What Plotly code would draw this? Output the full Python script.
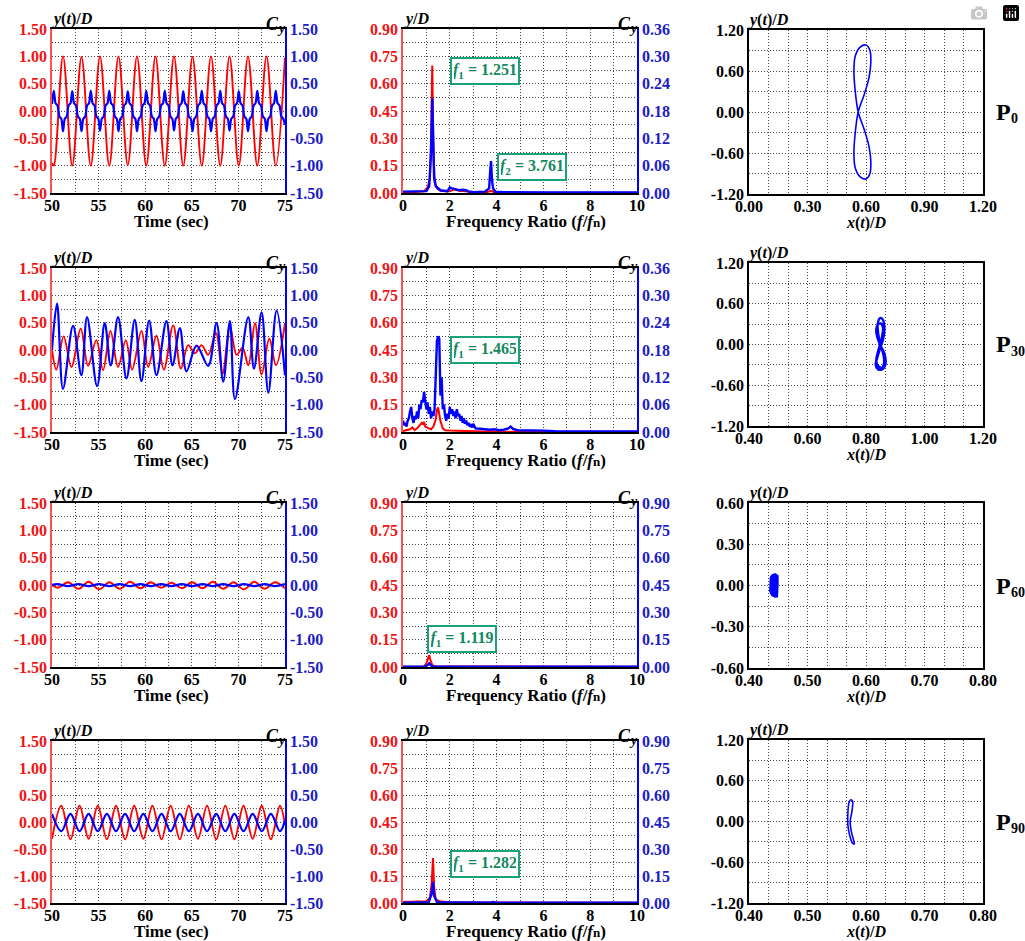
import plotly.graph_objects as go

W, H = 1025, 941
FONT = "Liberation Serif"
RED = "#ff0000"
BLUE = "#0000ff"
RED_TXT = "#f01414"
BLUE_TXT = "#1c1cc8"
TEAL = "#1aa37a"
TEAL_TXT = "#13885e"
GRID = "#444444"
GDASH = "1px,2px"

# ------------------------------------------------------------------ data
# Row 1 (P0) time histories
t1_y = [50.0, 50.19, 51.18, 52.175, 53.165, 54.16, 55.15, 56.145, 57.135, 58.13, 59.12,
        60.115, 61.105, 62.10, 63.09, 64.085, 65.075, 66.07, 67.06, 68.055, 69.045,
        70.04, 71.03, 72.025, 73.015, 74.01, 75.0]
y1 = [-0.95, -1.0, 1.0, -1.0, 0.99, -1.0, 1.0, -1.0, 1.0, -0.99, 1.0, -1.0, 1.0, -1.0, 1.0,
      -1.0, 0.99, -1.0, 1.0, -1.0, 1.0, -1.0, 1.0, -1.0, 1.0, -1.0, 0.98]
t1_c = [50.0,
        50.19, 50.39, 50.59, 50.79, 50.99, 51.18, 51.38, 51.58, 51.78, 51.98,
        52.175, 52.375, 52.575, 52.775, 52.975, 53.165, 53.365, 53.565, 53.765, 53.965,
        54.16, 54.36, 54.56, 54.76, 54.96, 55.15, 55.35, 55.55, 55.75, 55.95,
        56.145, 56.345, 56.545, 56.745, 56.945, 57.135, 57.335, 57.535, 57.735, 57.935,
        58.13, 58.33, 58.53, 58.73, 58.93, 59.12, 59.32, 59.52, 59.72, 59.92,
        60.115, 60.315, 60.515, 60.715, 60.915, 61.105, 61.305, 61.505, 61.705, 61.905,
        62.10, 62.30, 62.50, 62.70, 62.90, 63.09, 63.29, 63.49, 63.69, 63.89,
        64.085, 64.285, 64.485, 64.685, 64.885, 65.075, 65.275, 65.475, 65.675, 65.875,
        66.07, 66.27, 66.47, 66.67, 66.87, 67.06, 67.26, 67.46, 67.66, 67.86,
        68.055, 68.255, 68.455, 68.655, 68.855, 69.045, 69.245, 69.445, 69.645, 69.845,
        70.04, 70.24, 70.44, 70.64, 70.84, 71.03, 71.23, 71.43, 71.63, 71.83,
        72.025, 72.225, 72.425, 72.625, 72.825, 73.015, 73.215, 73.415, 73.615, 73.815,
        74.01, 74.21, 74.41, 74.61, 74.81, 75.0]
c1 = [0.13,
      0.37, 0.14, 0.10, -0.10, -0.14, -0.37, -0.14, -0.10, 0.10, 0.14,
      0.36, 0.14, 0.10, -0.10, -0.14, -0.37, -0.14, -0.10, 0.10, 0.14,
      0.37, 0.14, 0.10, -0.10, -0.14, -0.36, -0.14, -0.10, 0.10, 0.14,
      0.37, 0.14, 0.10, -0.10, -0.14, -0.37, -0.14, -0.10, 0.10, 0.14,
      0.36, 0.14, 0.10, -0.10, -0.14, -0.37, -0.14, -0.10, 0.10, 0.14,
      0.37, 0.14, 0.10, -0.10, -0.14, -0.37, -0.14, -0.10, 0.10, 0.14,
      0.37, 0.14, 0.10, -0.10, -0.14, -0.36, -0.14, -0.10, 0.10, 0.14,
      0.36, 0.14, 0.10, -0.10, -0.14, -0.37, -0.14, -0.10, 0.10, 0.14,
      0.37, 0.14, 0.10, -0.10, -0.14, -0.37, -0.14, -0.10, 0.10, 0.14,
      0.37, 0.14, 0.10, -0.10, -0.14, -0.36, -0.14, -0.10, 0.10, 0.14,
      0.36, 0.14, 0.10, -0.10, -0.14, -0.37, -0.14, -0.10, 0.10, 0.14,
      0.37, 0.14, 0.10, -0.10, -0.14, -0.37, -0.14, -0.10, 0.10, 0.14,
      0.37, 0.14, 0.10, -0.10, -0.14, -0.25]

# Row 2 (P30) time histories
t2_y = [50.0, 50.47, 51.25, 52.08, 53.08, 53.87, 54.76, 55.48, 56.27, 57.09, 57.92, 58.60,
        59.60, 60.32, 61.21, 62.00, 63.00, 63.83, 64.61, 65.33, 66.05, 66.76, 67.59, 68.30,
        69.09, 69.81, 70.45, 71.06, 71.78, 72.49, 73.32, 74.03, 75.0]
y2 = [0.0, -0.36, 0.25, -0.31, 0.39, -0.29, 0.18, -0.37, 0.35, -0.31, 0.18, -0.36, 0.35,
      -0.31, 0.26, -0.36, 0.45, -0.34, 0.09, -0.06, 0.09, -0.09, 0.31, -0.43, 0.43, -0.09,
      0.04, -0.28, 0.49, -0.45, 0.21, -0.28, 0.49]
t2_c = [50.0, 50.54, 51.18, 52.26, 53.15, 53.76, 54.84, 55.66, 56.30, 57.09, 57.99, 58.88,
        59.60, 60.42, 61.21, 62.28, 62.93, 63.72, 64.43, 65.51, 66.76, 67.66, 68.37, 69.09,
        69.63, 71.06, 71.67, 72.49, 73.21, 74.10, 75.0]
c2 = [0.0, 0.85, -0.71, 0.44, -0.46, 0.60, -0.66, 0.49, -0.28, 0.60, -0.52, 0.55, -0.57,
      0.54, -0.46, 0.53, -0.28, 0.40, -0.39, 0.08, -0.29, 0.49, -0.58, 0.53, -0.90, 0.60,
      -0.34, 0.69, -0.78, 0.72, -0.46]

# Row 3 (P60) time histories
t3 = [50.0, 50.61, 51.72, 52.83, 53.94, 55.05, 56.16, 57.27, 58.38, 59.49, 60.60, 61.71,
      62.82, 63.93, 65.04, 66.15, 67.26, 68.37, 69.48, 70.59, 71.70, 72.81, 73.92, 75.0]
y3 = [0.0, -0.05, 0.05, -0.07, 0.06, -0.08, 0.05, -0.07, 0.06, -0.06, 0.05, -0.05, 0.04,
      -0.06, 0.05, -0.06, 0.06, -0.07, 0.05, -0.08, 0.06, -0.07, 0.05, -0.06]
c3 = [0.0, 0.015, -0.02, 0.015, -0.02, 0.015, -0.02, 0.015, -0.02, 0.015, -0.02, 0.015,
      -0.02, 0.015, -0.02, 0.015, -0.02, 0.015, -0.02, 0.015, -0.02, 0.015, -0.02, 0.015]

# Row 4 (P90) time histories
t4 = [50.0, 51.0, 51.98, 52.955, 53.93, 54.91, 55.89, 56.865, 57.84, 58.82, 59.80, 60.775,
      61.75, 62.73, 63.71, 64.685, 65.66, 66.64, 67.62, 68.595, 69.57, 70.55, 71.53, 72.505,
      73.48, 74.46, 75.0]
y4 = [-0.31, 0.30, -0.32, 0.30, -0.31, 0.30, -0.32, 0.30, -0.32, 0.30, -0.31, 0.30, -0.32,
      0.30, -0.32, 0.30, -0.31, 0.30, -0.32, 0.30, -0.32, 0.30, -0.31, 0.30, -0.32, 0.30, -0.05]
c4 = [0.15, -0.17, 0.15, -0.17, 0.15, -0.17, 0.15, -0.17, 0.15, -0.17, 0.15, -0.17, 0.15,
      -0.17, 0.15, -0.17, 0.15, -0.17, 0.15, -0.17, 0.15, -0.17, 0.15, -0.17, 0.15, -0.17, 0.03]

# Spectra (frequency ratio f/fn, amplitude)
f1_y = [0, 0.5, 0.9, 1.05, 1.15, 1.2, 1.251, 1.3, 1.35, 1.45, 1.6, 1.9, 2.05, 2.2, 2.4, 2.6,
        2.8, 3.2, 3.6, 3.76, 3.9, 4.2, 6.0, 10.0]
a1_y = [0.006, 0.005, 0.01, 0.03, 0.08, 0.30, 0.70, 0.22, 0.06, 0.025, 0.012, 0.008, 0.012,
        0.02, 0.012, 0.009, 0.006, 0.004, 0.005, 0.012, 0.004, 0.002, 0.001, 0.001]
f1_c = [0, 0.5, 1.0, 1.12, 1.2, 1.251, 1.29, 1.33, 1.4, 1.6, 1.9, 2.0, 2.1, 2.25, 2.4, 2.55,
        2.7, 2.8, 3.0, 3.5, 3.68, 3.73, 3.761, 3.8, 3.85, 3.95, 4.3, 6.0, 10.0]
a1_c = [0.003, 0.003, 0.004, 0.015, 0.09, 0.208, 0.10, 0.035, 0.015, 0.006, 0.004, 0.012,
        0.010, 0.008, 0.006, 0.007, 0.006, 0.003, 0.002, 0.003, 0.010, 0.05, 0.07, 0.03,
        0.01, 0.003, 0.002, 0.001, 0.001]

f2_y = [0.0, 0.2, 0.3, 0.4, 0.5, 0.6, 0.7, 0.8, 0.85, 0.9, 0.95, 1.0, 1.1, 1.2, 1.3, 1.4,
        1.45, 1.5, 1.55, 1.6, 1.7, 1.8, 2.0, 2.5, 3.0, 4.0, 10.0]
a2_y = [0.005, 0.01, 0.015, 0.025, 0.01, 0.02, 0.035, 0.05, 0.04, 0.055, 0.03, 0.025, 0.02,
        0.015, 0.03, 0.07, 0.12, 0.135, 0.10, 0.06, 0.02, 0.01, 0.008, 0.005, 0.004, 0.002,
        0.001]
f2_c = [0.0, 0.05, 0.1, 0.15, 0.2, 0.25, 0.3, 0.35, 0.4, 0.45, 0.5, 0.55, 0.6, 0.65, 0.7,
        0.75, 0.8, 0.85, 0.9, 0.95, 1.0, 1.05, 1.1, 1.15, 1.2, 1.25, 1.3, 1.35, 1.4, 1.45,
        1.5, 1.55, 1.6, 1.65, 1.7, 1.75, 1.8, 1.85, 1.9, 1.95, 2.0, 2.05, 2.1, 2.15, 2.2,
        2.25, 2.3, 2.35, 2.4, 2.45, 2.5, 2.55, 2.6, 2.65, 2.7, 2.75, 2.8, 2.85, 2.9, 2.95,
        3.0, 3.1, 3.3, 3.5, 3.7, 3.9, 4.1, 4.3, 4.5, 4.6, 4.7, 4.9, 5.2, 5.5, 6.0, 6.5, 7.0,
        8.0, 9.0, 10.0]
a2_c = [0.025, 0.015, 0.02, 0.012, 0.025, 0.03, 0.045, 0.055, 0.03, 0.02, 0.035, 0.028,
        0.045, 0.03, 0.06, 0.05, 0.07, 0.065, 0.088, 0.06, 0.05, 0.065, 0.04, 0.055, 0.03,
        0.045, 0.035, 0.05, 0.12, 0.20, 0.21, 0.205, 0.08, 0.12, 0.05, 0.06, 0.035, 0.025,
        0.04, 0.03, 0.055, 0.04, 0.05, 0.035, 0.045, 0.03, 0.05, 0.035, 0.04, 0.025, 0.035,
        0.02, 0.03, 0.018, 0.025, 0.015, 0.02, 0.012, 0.015, 0.01, 0.018, 0.008, 0.007,
        0.006, 0.005, 0.006, 0.004, 0.005, 0.008, 0.012, 0.007, 0.004, 0.004, 0.003, 0.003,
        0.002, 0.002, 0.002, 0.001, 0.001]

f3_y = [0, 0.9, 1.0, 1.06, 1.119, 1.17, 1.25, 1.4, 10]
a3_y = [0.002, 0.003, 0.02, 0.05, 0.065, 0.04, 0.01, 0.003, 0.001]
f3_c = [0, 0.95, 1.05, 1.119, 1.2, 1.3, 10]
a3_c = [0.001, 0.002, 0.01, 0.02, 0.008, 0.002, 0.001]

f4_y = [0, 0.8, 1.0, 1.15, 1.22, 1.282, 1.33, 1.4, 1.6, 2.0, 10]
a4_y = [0.005, 0.006, 0.01, 0.03, 0.10, 0.25, 0.09, 0.02, 0.008, 0.004, 0.001]
f4_c = [0, 1.1, 1.22, 1.282, 1.33, 1.45, 3.75, 3.85, 3.95, 10]
a4_c = [0.002, 0.005, 0.05, 0.117, 0.04, 0.005, 0.002, 0.006, 0.002, 0.001]

peak_labels = [["<i>f</i><sub>1</sub> = 1.251", "<i>f</i><sub>2</sub> = 3.761"],
               ["<i>f</i><sub>1</sub> = 1.465"],
               ["<i>f</i><sub>1</sub> = 1.119"],
               ["<i>f</i><sub>1</sub> = 1.282"]]

# Orbits x(t)/D, y(t)/D
ox1 = [0.56, 0.545, 0.538, 0.545, 0.57, 0.60, 0.618, 0.625, 0.615, 0.59, 0.56, 0.545, 0.538,
       0.545, 0.57, 0.60, 0.618, 0.625, 0.615, 0.59, 0.56]
oy1 = [0.0, 0.3, 0.6, 0.82, 0.95, 0.98, 0.92, 0.78, 0.5, 0.25, 0.0, -0.3, -0.6, -0.82, -0.95,
       -0.98, -0.92, -0.78, -0.5, -0.25, 0.0]
ox2 = [0.848, 0.838, 0.835, 0.84, 0.85, 0.858, 0.855, 0.848, 0.84, 0.835, 0.842, 0.855,
       0.862, 0.858, 0.849, 0.842, 0.84, 0.848, 0.857, 0.863, 0.858, 0.848, 0.838, 0.833,
       0.84, 0.853, 0.866, 0.864, 0.848]
oy2 = [0.0, 0.12, 0.22, 0.29, 0.31, 0.25, 0.12, 0.0, -0.12, -0.25, -0.32, -0.34, -0.26,
       -0.12, 0.0, 0.15, 0.3, 0.39, 0.37, 0.22, 0.07, -0.06, -0.2, -0.3, -0.36, -0.37, -0.3,
       -0.15, 0.0]
ox3 = [0.437, 0.440, 0.445, 0.449, 0.449, 0.448, 0.444, 0.439, 0.436, 0.436, 0.437]
oy3 = [0.06, 0.075, 0.083, 0.07, 0.0, -0.08, -0.082, -0.07, -0.04, 0.02, 0.06]
ox4 = [0.574, 0.577, 0.576, 0.573, 0.575, 0.579, 0.580, 0.577, 0.572, 0.569, 0.569, 0.571, 0.574]
oy4 = [0.32, 0.30, 0.15, 0.0, -0.15, -0.28, -0.33, -0.32, -0.2, -0.05, 0.12, 0.28, 0.32]

case_labels = ["0", "30", "60", "90"]

# ------------------------------------------------------------------ layout helpers
col_px = [(52, 285), (403, 637), (749, 983)]
row_px = [[(29, 193), (29, 193), (30, 194)],
          [(268, 432), (268, 432), (263, 426)],
          [(503, 667), (503, 667), (503, 668)],
          [(741, 903), (741, 903), (740, 903)]]


def xd(c):
    a, b = col_px[c]
    return [a / W, b / W]


def yd(r, c):
    t, b = row_px[r][c]
    return [1 - b / H, 1 - t / H]


def nm(kind, i):
    return kind if i == 1 else f"{kind}{i}"


def axis(domain, rng, tvals, fmt, minor, lcolor, tcolor, anchor, mirror=False,
         grid=True, side=None, overlaying=None, standoff=None):
    d = dict(range=rng, tickmode="array", tickvals=tvals,
             ticktext=[fmt.format(v) for v in tvals],
             showline=True, linecolor=lcolor, linewidth=1.5, mirror=mirror,
             showgrid=grid, gridcolor=GRID, griddash=GDASH, gridwidth=1,
             zeroline=False, ticks="", anchor=anchor, fixedrange=True, automargin=False,
             tickfont=dict(family=FONT, size=16, color=tcolor, weight=700))
    if domain is not None:
        d["domain"] = domain
    if grid and minor:
        d["minor"] = dict(tickmode="array", tickvals=minor, showgrid=True,
                          gridcolor=GRID, griddash=GDASH, gridwidth=1, ticks="")
    if side:
        d["side"] = side
    if overlaying:
        d["overlaying"] = overlaying
    if standoff is not None:
        d["ticklabelstandoff"] = standoff
    return d


fig = go.Figure()
lay = {}
annots = []


def A(text, px, py, xa="center", ya="middle", size=16, color="black", **kw):
    annots.append(dict(text=text, x=px / W, y=1 - py / H, xref="paper", yref="paper",
                       xanchor=xa, yanchor=ya, showarrow=False,
                       font=dict(family=FONT, size=size, color=color), **kw))


ts = [(t1_y, y1, t1_c, c1), (t2_y, y2, t2_c, c2), (t3, y3, t3, c3), (t4, y4, t4, c4)]
sp = [(f1_y, a1_y, f1_c, a1_c), (f2_y, a2_y, f2_c, a2_c), (f3_y, a3_y, f3_c, a3_c),
      (f4_y, a4_y, f4_c, a4_c)]
orb = [(ox1, oy1), (ox2, oy2), (ox3, oy3), (ox4, oy4)]
box_pos = [[(3.5, 0.67), (5.5, 0.143)], [(3.5, 0.45)], [(2.5, 0.151)], [(3.5, 0.219)]]

ty_vals = [-1.5, -1.0, -0.5, 0.0, 0.5, 1.0, 1.5]
ty_minor = [-1.25, -0.75, -0.25, 0.25, 0.75, 1.25]
sy_vals = [0.0, 0.15, 0.3, 0.45, 0.6, 0.75, 0.9]
sy_minor = [0.075, 0.225, 0.375, 0.525, 0.675, 0.825]
sc_small = [0.0, 0.06, 0.12, 0.18, 0.24, 0.30, 0.36]

for r in range(4):
    # ---------------- column 1: time histories
    i = r * 3 + 1
    ir = 13 + r * 2
    lay[nm("xaxis", i)] = axis(xd(0), [50, 75], [50, 55, 60, 65, 70, 75], "{:.0f}",
                               [52.5, 57.5, 62.5, 67.5, 72.5], "black", "black",
                               nm("y", i), mirror=True, standoff=-3)
    lay[nm("yaxis", i)] = axis(yd(r, 0), [-1.5, 1.5], ty_vals, "{:.2f}", ty_minor,
                               "#ff5050", RED_TXT, nm("x", i))
    lay[nm("yaxis", ir)] = axis(None, [-1.5, 1.5], ty_vals, "{:.2f}", None, BLUE, BLUE_TXT,
                                nm("x", i), grid=False, side="right", overlaying=nm("y", i))
    tx, yy, tc, cc = ts[r]
    fig.add_trace(go.Scatter(x=tx, y=yy, mode="lines", line=dict(color=RED, width=1.9, shape="spline"),
                             xaxis=nm("x", i), yaxis=nm("y", i)))
    fig.add_trace(go.Scatter(x=tc, y=cc, mode="lines", line=dict(color=BLUE, width=2.2, shape="spline"),
                             xaxis=nm("x", i), yaxis=nm("y", ir)))

    # ---------------- column 2: spectra
    i = r * 3 + 2
    ir = 13 + r * 2 + 1
    lay[nm("xaxis", i)] = axis(xd(1), [0, 10], [0, 2, 4, 6, 8, 10], "{:.0f}", [1, 3, 5, 7, 9],
                               "black", "black", nm("y", i), mirror=True, standoff=-3)
    lay[nm("yaxis", i)] = axis(yd(r, 1), [0, 0.9], sy_vals, "{:.2f}", sy_minor,
                               "#ff5050", RED_TXT, nm("x", i))
    if r < 2:
        lay[nm("yaxis", ir)] = axis(None, [0, 0.36], sc_small, "{:.2f}", None, BLUE, BLUE_TXT,
                                    nm("x", i), grid=False, side="right", overlaying=nm("y", i))
    else:
        lay[nm("yaxis", ir)] = axis(None, [0, 0.9], sy_vals, "{:.2f}", None, BLUE, BLUE_TXT,
                                    nm("x", i), grid=False, side="right", overlaying=nm("y", i))
    fy, ay, fc, ac = sp[r]
    fig.add_trace(go.Scatter(x=fy, y=ay, mode="lines", line=dict(color=RED, width=2),
                             xaxis=nm("x", i), yaxis=nm("y", i)))
    fig.add_trace(go.Scatter(x=fc, y=ac, mode="lines", line=dict(color=BLUE, width=2.4),
                             xaxis=nm("x", i), yaxis=nm("y", ir)))
    for lab, (bx, by) in zip(peak_labels[r], box_pos[r]):
        annots.append(dict(text="<b>" + lab + "</b>", x=bx, y=by, xref=nm("x", i), yref=nm("y", i),
                           showarrow=False, bgcolor="white", bordercolor=TEAL, borderwidth=2,
                           borderpad=2, width=62, height=20,
                           font=dict(family=FONT, size=16, color=TEAL_TXT)))

    # ---------------- column 3: orbits
    i = r * 3 + 3
    if r == 0:
        xr, xv, xm = [0, 1.2], [0, 0.3, 0.6, 0.9, 1.2], [k * 0.1 for k in range(1, 12)]
    elif r == 1:
        xr, xv, xm = [0.4, 1.2], [0.4, 0.6, 0.8, 1.0, 1.2], [0.4 + k * 0.8 / 12 for k in range(1, 12)]
    else:
        xr, xv, xm = [0.4, 0.8], [0.4, 0.5, 0.6, 0.7, 0.8], [0.4 + k * 0.4 / 12 for k in range(1, 12)]
    if r == 2:
        yr, yv, ym = [-0.6, 0.6], [-0.6, -0.3, 0.0, 0.3, 0.6], [-0.45, -0.15, 0.15, 0.45]
    else:
        yr, yv, ym = [-1.2, 1.2], [-1.2, -0.6, 0.0, 0.6, 1.2], [-0.9, -0.3, 0.3, 0.9]
    lay[nm("xaxis", i)] = axis(xd(2), xr, xv, "{:.2f}", xm, "black", "black", nm("y", i),
                               mirror=True, standoff=-3)
    lay[nm("yaxis", i)] = axis(yd(r, 2), yr, yv, "{:.2f}", ym, "black", "black", nm("x", i), mirror=True)
    ox, oy = orb[r]
    if r == 2:
        fig.add_trace(go.Scatter(x=ox, y=oy, mode="lines", fill="toself", fillcolor=BLUE,
                                 line=dict(color=BLUE, width=2), xaxis=nm("x", i), yaxis=nm("y", i)))
    else:
        fig.add_trace(go.Scatter(x=ox, y=oy, mode="lines",
                                 line=dict(color=BLUE, width=1.6 if r != 1 else 2.4, shape="spline"),
                                 xaxis=nm("x", i), yaxis=nm("y", i)))

    # ---------------- text labels
    t, b = row_px[r][0]
    t2, b2 = row_px[r][2]
    A("<b><i>y</i>(<i>t</i>)/<i>D</i></b>", 50, t + 1, "left", "bottom", size=16)
    A("<b><i>C</i></b>", 285 - 13, t - 5, size=18)
    A("<b><i>y</i></b>", 285 - 4, t - 1, size=14)
    A("<b>Time (sec)</b>", 171, b + 28, size=17)
    A("<b><i>y</i>/<i>D</i></b>", 402, t + 1, "left", "bottom", size=16)
    A("<b><i>C</i></b>", 637 - 13, t - 5, size=18)
    A("<b><i>y</i></b>", 637 - 4, t - 1, size=14)
    A("<b>Frequency Ratio (<i>f</i>/<i>f</i><span style='font-size:13px'>n</span>)</b>",
      526, b + 28, size=17)
    A("<b><i>y</i>(<i>t</i>)/<i>D</i></b>", 746, t2 + 1, "left", "bottom", size=16)
    A("<b><i>x</i>(<i>t</i>)/<i>D</i></b>", 866, b2 + 29, size=16)
    A("<b>P</b>", 994, (t2 + b2) / 2, "left", "middle", size=24)
    A("<b>" + case_labels[r] + "</b>", 1009, (t2 + b2) / 2 + 7, "left", "middle", size=14)

fig.update_layout(width=W, height=H, margin=dict(l=0, r=0, t=0, b=0, autoexpand=False),
                  autosize=False, paper_bgcolor="white", plot_bgcolor="white", showlegend=False,
                  annotations=annots, **lay)

fig.write_html("out.html", post_script="document.body.style.margin='0';")
